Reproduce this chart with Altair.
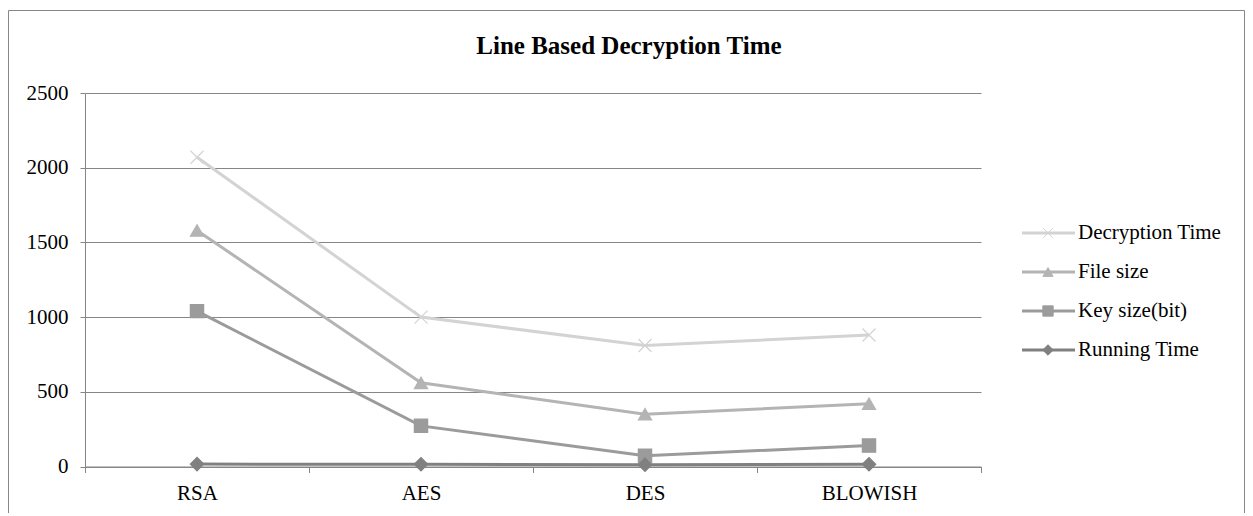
import altair as alt
import pandas as pd

categories = ["RSA", "AES", "DES", "BLOWISH"]
series = ["Decryption Time", "File size", "Key size(bit)", "Running Time"]
decryption_time = [2070, 1000, 810, 880]
file_size = [1580, 560, 350, 420]
key_size = [1040, 272, 72, 140]
running_time = [16, 15, 12, 15]
y_ticks = [0, 500, 1000, 1500, 2000, 2500]
title_text = "Line Based Decryption Time"

colors = ["#d3d3d3", "#b4b4b4", "#9b9b9b", "#808080"]
shapes = ["M-1,-1L1,1M-1,1L1,-1", "triangle-up", "square", "diamond"]

rows = []
for name, vals in zip(series, [decryption_time, file_size, key_size, running_time]):
    for c, v in zip(categories, vals):
        rows.append({"category": c, "series": name, "value": v})
df = pd.DataFrame(rows)
legend_df = pd.DataFrame({"series": series})

FONT = "Liberation Serif"
W, H = 896, 373.5

color_scale = alt.Scale(domain=series, range=colors)
shape_scale = alt.Scale(domain=series, range=shapes)

x_enc = alt.X(
    "category:N",
    sort=categories,
    bandPosition=0.5,
    scale=alt.Scale(type="band", domain=categories, paddingInner=0, paddingOuter=0),
    axis=alt.Axis(
        title=None, labelAngle=0, tickBand="extent", tickSize=6, tickColor="#868686",
        domainColor="#868686", labelFont=FONT, labelFontSize=21, labelColor="black",
        labelPadding=10, grid=False,
    ),
)
y_enc = alt.Y(
    "value:Q",
    scale=alt.Scale(domain=[0, 2500], nice=False),
    axis=alt.Axis(
        title=None, values=y_ticks, format="d", grid=True, gridColor="#868686", gridWidth=1,
        domainColor="#868686", tickColor="#868686", tickSize=5, labelFont=FONT,
        labelFontSize=21, labelColor="black", labelPadding=12,
    ),
)

base = alt.Chart(df)
lines = base.mark_line(strokeWidth=3).encode(
    x=x_enc, y=y_enc,
    color=alt.Color("series:N", scale=color_scale, legend=None),
    detail="series:N",
)
points = base.mark_point(filled=True, opacity=1, strokeWidth=1.2).encode(
    x=x_enc, y=y_enc,
    color=alt.Color("series:N", scale=color_scale, legend=None),
    stroke=alt.Stroke("series:N", scale=color_scale, legend=None),
    shape=alt.Shape("series:N", scale=shape_scale, legend=None),
    size=alt.Size("series:N", scale=alt.Scale(domain=series, range=[170, 180, 200, 120]), legend=None),
)
main = alt.layer(lines, points)

ly = alt.Y("series:N", scale=alt.Scale(type="point", domain=series, range=[140, 257], padding=0), axis=None)
lbase = alt.Chart(legend_df)
l_rule = lbase.mark_rule(strokeWidth=3).encode(
    x=alt.value(937), x2=alt.value(990), y=ly,
    color=alt.Color("series:N", scale=color_scale, legend=None),
)
l_pts = lbase.mark_point(filled=True, opacity=1, strokeWidth=1).encode(
    x=alt.value(963), y=ly,
    color=alt.Color("series:N", scale=color_scale, legend=None),
    stroke=alt.Stroke("series:N", scale=color_scale, legend=None),
    shape=alt.Shape("series:N", scale=shape_scale, legend=None),
    size=alt.Size("series:N", scale=alt.Scale(domain=series, range=[100, 110, 110, 70]), legend=None),
)
l_text = lbase.mark_text(align="left", baseline="middle", font=FONT, fontSize=21, color="black").encode(
    x=alt.value(993), y=ly, text="series:N",
)
legend = alt.layer(l_rule, l_pts, l_text)

border = alt.Chart(pd.DataFrame({"a": [0]})).mark_rect(
    fill=None, stroke="#878787", strokeWidth=1
).encode(
    x=alt.value(-76.5), x2=alt.value(1159.5), y=alt.value(-82.5), y2=alt.value(440)
)
title = alt.Chart(pd.DataFrame({"t": [title_text]})).mark_text(
    align="center", baseline="alphabetic", font=FONT, fontSize=25, fontWeight="bold", color="black"
).encode(x=alt.value(544), y=alt.value(-39), text="t:N")

chart = alt.layer(border, main, legend, title).resolve_scale(
    y="independent", size="independent"
).properties(
    width=W, height=H, autosize="none",
    padding={"left": 77, "top": 85, "right": 264, "bottom": 46},
    background="white",
).configure_view(stroke=None)

chart.save("out.html", embed_options={"renderer": "svg", "actions": False})
